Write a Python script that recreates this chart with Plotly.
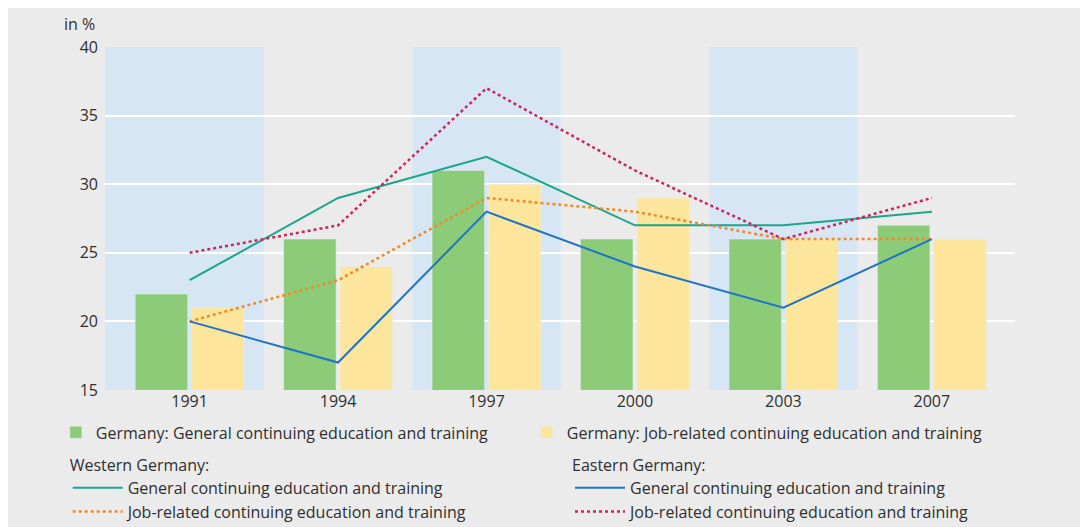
"""Participation in continuing education and training, 1991-2007."""
import plotly.graph_objects as go

years = ["1991", "1994", "1997", "2000", "2003", "2007"]

# bars: Germany as a whole
de_general = [22, 26, 31, 26, 26, 27]
de_job = [21, 24, 30, 29, 26, 26]

# lines: western / eastern Germany
west_general = [23, 29, 32, 27, 27, 28]
west_job = [20, 23, 29, 28, 26, 26]
east_general = [20, 17, 28, 24, 21, 26]
east_job = [25, 27, 37, 31, 26, 29]

y_ticks = [15, 20, 25, 30, 35, 40]
shaded_years = ["1991", "1997", "2003"]

FONT = "Open Sans"
TEXT = "#2f2f2f"

fig = go.Figure()

fig.add_trace(go.Bar(x=years, y=de_general, marker_color="#8ccb77",
                     name="Germany: General continuing education and training",
                     legend="legend"))
fig.add_trace(go.Bar(x=years, y=de_job, marker_color="#fde59c",
                     name="Germany: Job-related continuing education and training",
                     legend="legend"))

fig.add_trace(go.Scatter(x=years, y=west_general, mode="lines",
                         line=dict(color="#19a68a", width=2),
                         name="General continuing education and training",
                         legend="legend2"))
fig.add_trace(go.Scatter(x=years, y=west_job, mode="lines",
                         line=dict(color="#f0892a", width=2.5, dash="dot"),
                         name="Job-related continuing education and training",
                         legend="legend2"))
fig.add_trace(go.Scatter(x=years, y=east_general, mode="lines",
                         line=dict(color="#1f74c8", width=2),
                         name="General continuing education and training",
                         legend="legend3"))
fig.add_trace(go.Scatter(x=years, y=east_job, mode="lines",
                         line=dict(color="#d1235b", width=2.5, dash="dot"),
                         name="Job-related continuing education and training",
                         legend="legend3"))

# light blue background bands behind every other category
x_lo, x_hi = -0.57, 5.56
shapes = []
for yr in shaded_years:
    i = years.index(yr)
    shapes.append(dict(type="rect", xref="x", yref="paper",
                       x0=min(i - 0.5, x_lo) if i == 0 else i - 0.5, x1=i + 0.5,
                       y0=0, y1=1, fillcolor="#d7e6f5", line_width=0,
                       layer="below"))

legend_font = dict(family=FONT, size=16, color=TEXT)

fig.update_layout(
    width=1080, height=519,
    margin=dict(l=97, r=73, t=39, b=137, autoexpand=False),
    paper_bgcolor="#ebebeb",
    plot_bgcolor="#ebebeb",
    font=dict(family=FONT, size=16, color=TEXT),
    barmode="group",
    bargap=0.24,
    bargroupgap=0.07,
    shapes=shapes,
    xaxis=dict(type="category", range=[x_lo, x_hi], showgrid=False,
               ticks="", tickfont=dict(size=16), zeroline=False),
    yaxis=dict(range=[15, 40], tickvals=y_ticks, showgrid=True,
               gridcolor="white", gridwidth=2, ticks="", zeroline=False,
               ticklabelstandoff=6, tickfont=dict(size=16)),
    legend=dict(orientation="h", x=-0.054, xanchor="left", y=-0.074,
                yanchor="top", font=legend_font, bgcolor="rgba(0,0,0,0)",
                entrywidth=426, entrywidthmode="pixels", itemclick=False,
                traceorder="normal"),
    legend2=dict(orientation="v", x=-0.041, xanchor="left", y=-0.175,
                 yanchor="top", font=legend_font, bgcolor="rgba(0,0,0,0)",
                 title=dict(text="Western Germany:", font=legend_font),
                 itemwidth=50, tracegroupgap=0, traceorder="normal"),
    legend3=dict(orientation="v", x=0.511, xanchor="left", y=-0.175,
                 yanchor="top", font=legend_font, bgcolor="rgba(0,0,0,0)",
                 title=dict(text="Eastern Germany:", font=legend_font),
                 itemwidth=50, tracegroupgap=0, traceorder="normal"),
    annotations=[dict(text="in %", xref="paper", yref="paper", x=0, y=1,
                      xanchor="right", yanchor="bottom", xshift=-8, yshift=10,
                      showarrow=False, font=dict(family=FONT, size=16, color=TEXT))],
)

fig.write_html("out.html")
